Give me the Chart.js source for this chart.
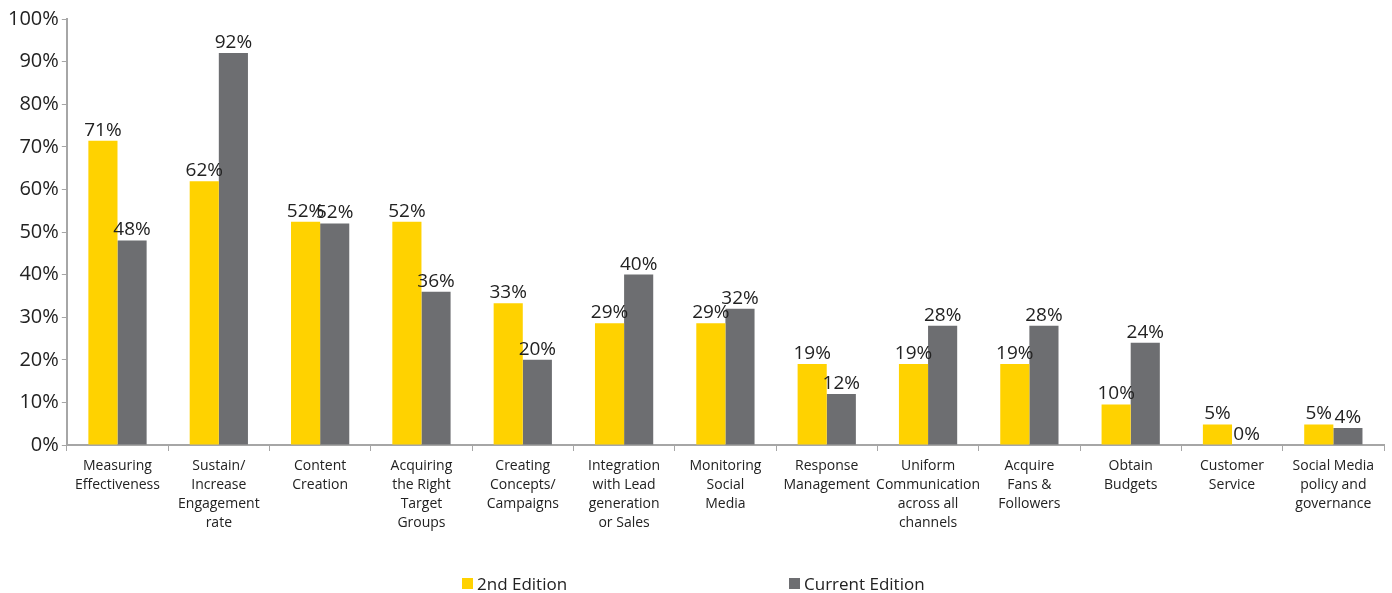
<!DOCTYPE html>
<html><head><meta charset="utf-8">
<script src="https://cdn.jsdelivr.net/npm/chart.js@4.4.1/dist/chart.umd.min.js"></script>
<style>
html,body{margin:0;padding:0;background:#fff;}
#wrap{position:relative;width:1392px;height:593px;}
#legend{position:absolute;top:572px;left:0;width:1392px;height:20px;font-family:"Open Sans",sans-serif;font-size:17px;color:#222;}
.li{position:absolute;top:0;display:flex;align-items:center;}
.sw{width:11px;height:11px;margin-right:4px;display:inline-block;}
</style></head>
<body><div id="wrap"><canvas id="c" width="1392" height="593"></canvas>
<div id="legend"></div></div>
<script>
const categories = [
  ["Measuring","Effectiveness"],
  ["Sustain/","Increase","Engagement","rate"],
  ["Content","Creation"],
  ["Acquiring","the Right","Target","Groups"],
  ["Creating","Concepts/","Campaigns"],
  ["Integration","with Lead","generation","or Sales"],
  ["Monitoring","Social","Media"],
  ["Response","Management"],
  ["Uniform","Communication","across all","channels"],
  ["Acquire","Fans &","Followers"],
  ["Obtain","Budgets"],
  ["Customer","Service"],
  ["Social Media","policy and","governance"]
];
const seriesNames = ["2nd Edition","Current Edition"];
const secondEdition = [71.4,61.9,52.4,52.4,33.3,28.6,28.6,19.0,19.0,19.0,9.5,4.8,4.8];
const currentEdition = [48,92,52,36,20,40,32,12,28,28,24,0,4];
const yTicks = [0,10,20,30,40,50,60,70,80,90,100];
const colors = ["#FFD200","#6D6E71"];

const FONT = '"Open Sans", sans-serif';
const valueLabels = {
  id:'valueLabels',
  afterDatasetsDraw(chart){
    const ctx = chart.ctx;
    ctx.save();
    ctx.font = '19px ' + FONT;
    ctx.fillStyle = '#222';
    ctx.textAlign = 'center';
    ctx.textBaseline = 'bottom';
    chart.data.datasets.forEach((ds,i)=>{
      chart.getDatasetMeta(i).data.forEach((bar,j)=>{
        ctx.fillText(Math.round(ds.data[j]) + '%', bar.x, bar.y - 1);
      });
    });
    ctx.restore();
  }
};

new Chart(document.getElementById('c'), {
  type:'bar',
  data:{
    labels: categories,
    datasets:[
      {label:seriesNames[0], data:secondEdition, backgroundColor:colors[0]},
      {label:seriesNames[1], data:currentEdition, backgroundColor:colors[1]}
    ]
  },
  options:{
    responsive:false,
    animation:false,
    layout:{padding:{top:19,right:8,left:5,bottom:54}},
    plugins:{legend:{display:false},tooltip:{enabled:false}},
    datasets:{bar:{categoryPercentage:0.575,barPercentage:1}},
    scales:{
      x:{
        grid:{offset:true,drawOnChartArea:false,drawTicks:true,tickLength:6,color:'#a6a6a6'},
        border:{color:'#a6a6a6',width:2},
        ticks:{font:{family:FONT,size:14,lineHeight:1.357},color:'#222',padding:6,maxRotation:0,autoSkip:false}
      },
      y:{
        min:0,max:100,
        afterBuildTicks(axis){axis.ticks = yTicks.map(v=>({value:v}));},
        grid:{drawOnChartArea:false,drawTicks:true,tickLength:5,color:'#a6a6a6'},
        border:{color:'#a6a6a6',width:2},
        ticks:{font:{family:FONT,size:20},color:'#222',padding:3,callback:v=>v+'%'}
      }
    }
  },
  plugins:[valueLabels]
});

const lg = document.getElementById('legend');
const pos = [462,789];
seriesNames.forEach((n,i)=>{
  const d = document.createElement('div');
  d.className='li'; d.style.left=pos[i]+'px';
  d.innerHTML = '<span class="sw" style="background:'+colors[i]+'"></span><span>'+n+'</span>';
  lg.appendChild(d);
});
</script></body></html>
